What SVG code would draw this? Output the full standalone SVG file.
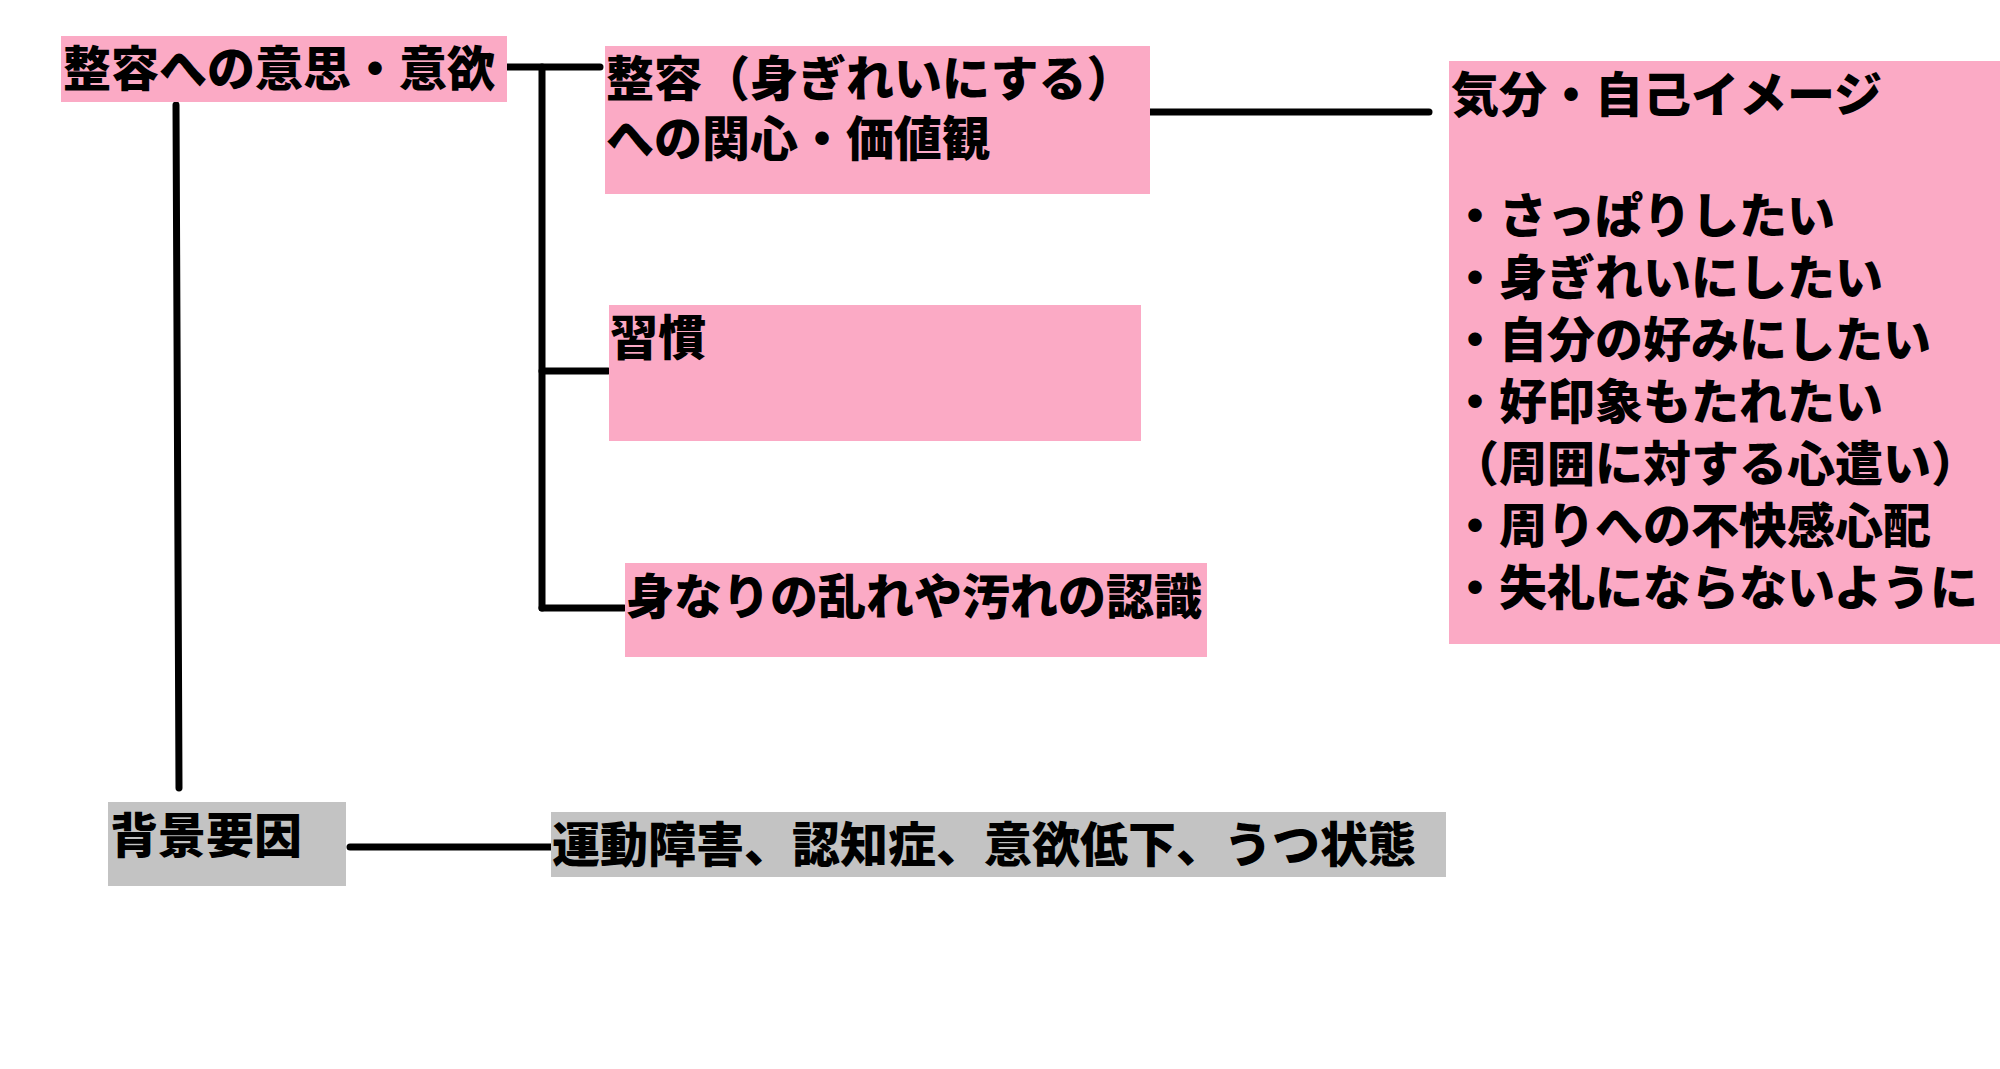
<svg xmlns="http://www.w3.org/2000/svg" width="2000" height="1069" viewBox="0 0 2000 1069">
<style>
.pink{fill:#FBAAC5}
.gray{fill:#C3C3C3}
text{font-family:"Noto Sans CJK JP","Noto Sans CJK SC",sans-serif;font-weight:900;font-size:48px;fill:#000}
.ln{stroke:#000;stroke-width:7;stroke-linecap:round;fill:none}
</style>
<rect width="2000" height="1069" fill="#fff"/>
<g id="connectors">
<line class="ln" x1="507" y1="67" x2="600" y2="67"/>
<line class="ln" x1="542" y1="67" x2="542" y2="608"/>
<line class="ln" x1="542" y1="371" x2="608" y2="371"/>
<line class="ln" x1="542" y1="608" x2="624" y2="608"/>
<line class="ln" x1="1150" y1="112" x2="1429" y2="112"/>
<line class="ln" x1="176" y1="105" x2="179" y2="788"/>
<line class="ln" x1="350" y1="847" x2="552" y2="847"/>
</g>
<g id="node-ishi">
<rect class="pink" x="61" y="36" width="446" height="66"/>
<text x="63" y="86">整容への意思・意欲</text>
</g>
<g id="node-kanshin">
<rect class="pink" x="605" y="46" width="545" height="148"/>
<text x="606" y="96">整容（身ぎれいにする）</text>
<text x="606" y="156">への関心・価値観</text>
</g>
<g id="node-shukan">
<rect class="pink" x="609" y="305" width="532" height="136"/>
<text x="610" y="355">習慣</text>
</g>
<g id="node-ninshiki">
<rect class="pink" x="625" y="563" width="582" height="94"/>
<text x="626" y="614">身なりの乱れや汚れの認識</text>
</g>
<g id="node-kibun">
<rect class="pink" x="1449" y="61" width="551" height="583"/>
<text x="1451" y="112">気分・自己イメージ</text>
<text x="1451" y="233">・さっぱりしたい</text>
<text x="1451" y="295">・身ぎれいにしたい</text>
<text x="1451" y="357">・自分の好みにしたい</text>
<text x="1451" y="419">・好印象もたれたい</text>
<text x="1451" y="481">（周囲に対する心遣い）</text>
<text x="1451" y="543">・周りへの不快感心配</text>
<text x="1451" y="605">・失礼にならないように</text>
</g>
<g id="node-haikei">
<rect class="gray" x="108" y="802" width="238" height="84"/>
<text x="110" y="853">背景要因</text>
</g>
<g id="node-youin">
<rect class="gray" x="551" y="812" width="895" height="65"/>
<text x="552" y="862">運動障害、認知症、意欲低下、うつ状態</text>
</g>
</svg>
